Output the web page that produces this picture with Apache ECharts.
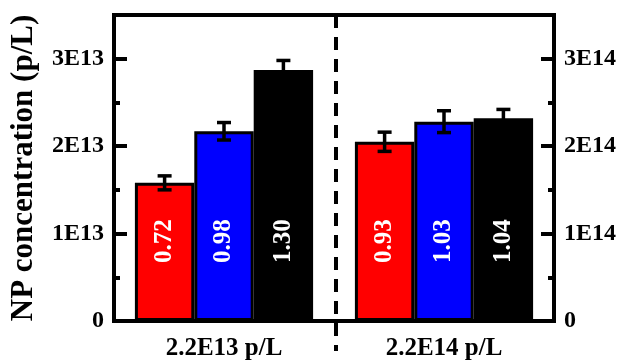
<!DOCTYPE html>
<html>
<head>
<meta charset="utf-8">
<script src="https://cdn.jsdelivr.net/npm/echarts@6/dist/echarts.min.js"></script>
<style>html,body{margin:0;padding:0;background:#fff;}#c{width:623px;height:362px;}</style>
</head>
<body>
<div id="c"></div>
<script>
const categories = ['2.2E13 p/L', '2.2E14 p/L'];
const seriesColors = ['#ff0000', '#0000ff', '#000000'];
const labelColors = ['#ffffff', '#ffffff', '#ffffff'];
// group 1 (left axis, p/L)
const lowValues = [1.58e13, 2.17e13, 2.87e13];
const lowErrors = [0.08e13, 0.10e13, 0.11e13];
const lowRatios = ['0.72', '0.98', '1.30'];
// group 2 (right axis, p/L)
const highValues = [2.05e14, 2.28e14, 2.32e14];
const highErrors = [0.11e14, 0.125e14, 0.10e14];
const highRatios = ['0.93', '1.03', '1.04'];
const leftTicks = [0, 1e13, 2e13, 3e13];
const rightTicks = [0, 1e14, 2e14, 3e14];

const FONT = 'Liberation Serif';
const CAT_GAP = 0.19;

function fmt(v, exp) {
  if (v === 0) return '0';
  const m = v / Math.pow(10, exp);
  if (Math.abs(m - Math.round(m)) > 1e-9) return '';
  return Math.round(m) + 'E' + exp;
}

function yAxisDef(pos, max, interval, exp, major) {
  return {
    type: 'value', position: pos, min: 0, max: max, interval: interval,
    axisLine: { show: true, lineStyle: { color: '#000', width: 4 } },
    axisTick: { show: true, inside: true, length: major ? 13 : 6, lineStyle: { color: '#000', width: 4 } },
    axisLabel: major ? { show: true, margin: 10, color: '#000', fontFamily: FONT, fontWeight: 'bold', fontSize: 24,
      formatter: v => fmt(v, exp) } : { show: false },
    splitLine: { show: false }
  };
}

const yAxes = [
  Object.assign(yAxisDef('left', 3.5e13, 1e13, 13, true), {
    name: 'NP concentration (p/L)', nameLocation: 'middle', nameGap: 75,
    nameTextStyle: { color: '#000', fontFamily: FONT, fontWeight: 'bold', fontSize: 31 }
  }),
  yAxisDef('right', 3.5e14, 1e14, 14, true),
  yAxisDef('left', 3.5e13, 0.5e13, 13, false),
  yAxisDef('right', 3.5e14, 0.5e14, 14, false)
];

const series = [];
seriesColors.forEach((col, i) => {
  const lbl = (arr) => ({
    show: true, position: 'insideBottom', distance: 58, rotate: 90,
    align: 'left', verticalAlign: 'middle',
    color: labelColors[i], fontFamily: FONT, fontWeight: 'bold', fontSize: 25,
    formatter: () => arr[i]
  });
  series.push({
    type: 'bar', xAxisIndex: 0, yAxisIndex: 0, barGap: '0%', barCategoryGap: (CAT_GAP * 100) + '%',
    data: [lowValues[i], '-'],
    itemStyle: { color: col, borderColor: '#000', borderWidth: 3 },
    label: lbl(lowRatios), z: 2
  });
  series.push({
    type: 'bar', xAxisIndex: 1, yAxisIndex: 1, barGap: '0%', barCategoryGap: (CAT_GAP * 100) + '%',
    data: ['-', highValues[i]],
    itemStyle: { color: col, borderColor: '#000', borderWidth: 3 },
    label: lbl(highRatios), z: 2
  });
});

function errRender(params, api) {
  const cat = api.value(0), v = api.value(1), e = api.value(2), slot = api.value(3);
  const top = api.coord([cat, v + e]);
  const bot = api.coord([cat, v - e]);
  const band = api.size([1, 0])[0];
  const bw = band * (1 - CAT_GAP) / 3;
  const x = top[0] + (slot - 1) * bw;
  const cap = 7;
  const st = { stroke: '#000', lineWidth: 3.5, fill: null };
  return { type: 'group', children: [
    { type: 'line', shape: { x1: x, y1: top[1], x2: x, y2: bot[1] }, style: st },
    { type: 'line', shape: { x1: x - cap, y1: top[1], x2: x + cap, y2: top[1] }, style: st },
    { type: 'line', shape: { x1: x - cap, y1: bot[1], x2: x + cap, y2: bot[1] }, style: st }
  ]};
}
series.push({
  type: 'custom', xAxisIndex: 0, yAxisIndex: 0, renderItem: errRender, z: 5,
  data: lowValues.map((v, i) => [0, v, lowErrors[i], i]), encode: { x: 0, y: 1 }
});
series.push({
  type: 'custom', xAxisIndex: 1, yAxisIndex: 1, renderItem: errRender, z: 5,
  data: highValues.map((v, i) => [1, v, highErrors[i], i]), encode: { x: 0, y: 1 }
});

const chart = echarts.init(document.getElementById('c'), null, { renderer: 'canvas' });
chart.setOption({
  animation: false,
  backgroundColor: '#fff',
  grid: { left: 110, right: 69, top: 15, bottom: 41, show: true, borderColor: '#000', borderWidth: 4 },
  xAxis: [
    { type: 'category', data: categories, position: 'bottom',
      axisLine: { show: true, lineStyle: { color: '#000', width: 4 } },
      axisTick: { show: false },
      axisLabel: { color: '#000', fontFamily: FONT, fontWeight: 'bold', fontSize: 25, margin: 15 } },
    { type: 'category', data: categories, position: 'bottom', show: false }
  ],
  yAxis: yAxes,
  series: series
});

// dashed separator between the two groups
const x0 = chart.convertToPixel({ xAxisIndex: 0 }, categories[0]);
const x1 = chart.convertToPixel({ xAxisIndex: 0 }, categories[1]);
const yTop = chart.convertToPixel({ yAxisIndex: 0 }, 3.5e13);
const yBot = chart.convertToPixel({ yAxisIndex: 0 }, 0);
chart.setOption({
  graphic: [{ type: 'line', z: 10, shape: { x1: (x0 + x1) / 2 + 2, y1: yTop, x2: (x0 + x1) / 2 + 2, y2: yBot + 30 },
    style: { stroke: '#000', lineWidth: 4, lineDash: [13, 9] } }]
});
</script>
</body>
</html>
